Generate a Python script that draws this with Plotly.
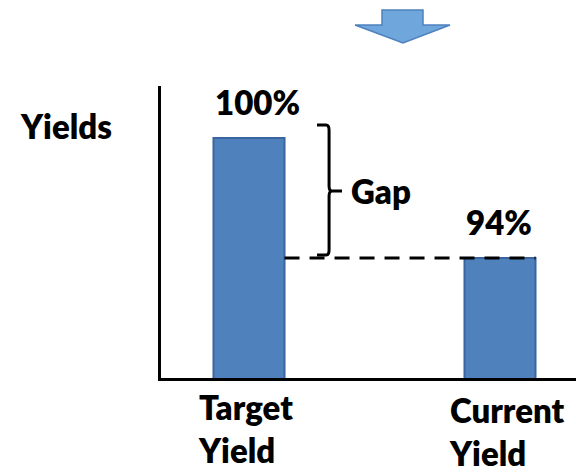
import plotly.graph_objects as go

categories = ["Target Yield", "Current Yield"]
cat_labels = ["Target<br>Yield", "Current<br>Yield"]
values = [100, 94]
value_labels = ["100%", "94%"]
axis_title = "Yields"
gap_label = "Gap"

xpos = [0, 1]
bw = 0.283
FONT = "Lato"
fs = 33
FW = 800

fig = go.Figure()
fig.add_trace(go.Bar(
    x=xpos, y=values, width=bw,
    marker=dict(color="#4f81bd", line=dict(color="#3a65a0", width=2)),
    hoverinfo="skip",
))

ann = []
# value labels, left-aligned to bar left edge
for xv, v, t in zip(xpos, values, value_labels):
    ann.append(dict(x=xv - bw / 2, y=v, xref="x", yref="y", text=t, showarrow=False,
                    xanchor="left", yanchor="bottom", yshift=14,
                    font=dict(family=FONT, size=fs, color="black", weight=FW)))
# category labels
for xv, t, ys in zip(xpos, cat_labels, [-7, -10]):
    ann.append(dict(x=xv - bw / 2, y=0, xref="x", yref="paper", text=t, showarrow=False,
                    xanchor="left", yanchor="top", xshift=-17, yshift=ys, align="left",
                    font=dict(family=FONT, size=fs, color="black", weight=FW)))
# axis title
ann.append(dict(x=-0.345, y=0.863, xref="paper", yref="paper", text=axis_title, showarrow=False,
                xanchor="left", yanchor="middle",
                font=dict(family=FONT, size=fs, color="black", weight=FW)))
# gap label
gap_mid = (values[0] + values[1]) / 2 + 0.35
ann.append(dict(x=0.40, y=gap_mid, xref="x", yref="y", text=gap_label, showarrow=False,
                xanchor="left", yanchor="middle",
                font=dict(family=FONT, size=fs, color="black", weight=FW)))

shapes = []
# dashed reference line at current level
shapes.append(dict(type="line", xref="x", yref="y",
                   x0=xpos[0] + bw / 2, x1=xpos[1] + bw / 2, y0=values[1], y1=values[1],
                   line=dict(color="black", width=3, dash="15px,10px")))
# brace
ytop = values[0] + 0.65
ybot = values[1] + 0.15
ym = gap_mid
xl, xv_, xr = 0.271, 0.319, 0.3705
c = 0.25
path = (f"M {xl},{ytop} L {xv_-0.012},{ytop} Q {xv_},{ytop} {xv_},{ytop-c} "
        f"L {xv_},{ym+c} Q {xv_},{ym} {xv_+0.012},{ym} L {xr},{ym} "
        f"M {xv_+0.012},{ym} Q {xv_},{ym} {xv_},{ym-c} "
        f"L {xv_},{ybot+c} Q {xv_},{ybot} {xv_-0.012},{ybot} L {xl},{ybot}")
shapes.append(dict(type="path", xref="x", yref="y", path=path,
                   line=dict(color="black", width=3)))

# down arrow (decorative) in paper coords
def px(x):
    return (x - 161) / 415

def py(y):
    return (378 - y) / 292

pts = [(382, 10), (423, 10), (423, 25), (450, 25), (403, 43), (355, 25), (382, 25)]
apath = "M " + " L ".join(f"{px(a)},{py(b)}" for a, b in pts) + " Z"
shapes.append(dict(type="path", xref="paper", yref="paper", path=apath,
                   fillcolor="#6fa6dc", line=dict(color="#4f81bd", width=1.5)))

fig.update_layout(
    width=576, height=474,
    margin=dict(l=161, r=0, t=86, b=96),
    paper_bgcolor="white", plot_bgcolor="white",
    showlegend=False,
    annotations=ann, shapes=shapes,
    xaxis=dict(range=[-0.3506, 1.3028], showline=True, linecolor="black", linewidth=3,
               showticklabels=False, ticks="", showgrid=False, zeroline=False, fixedrange=True),
    yaxis=dict(range=[88, 102.6], showline=True, linecolor="black", linewidth=3,
               showticklabels=False, ticks="", showgrid=False, zeroline=False, fixedrange=True),
)

fig.write_html("out.html", config={"displayModeBar": False})
